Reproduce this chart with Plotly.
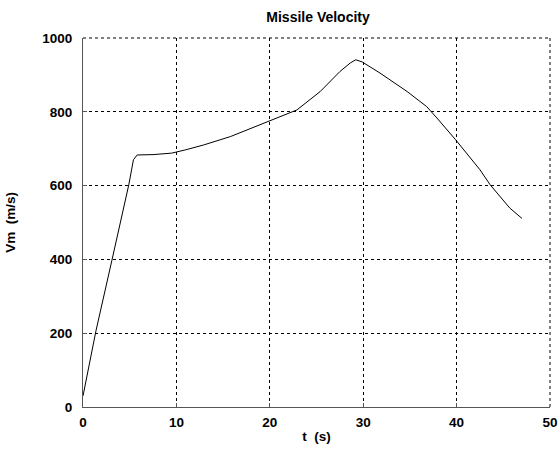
import plotly.graph_objects as go

t = [0, 1.4, 3.1, 4.9, 5.4, 5.8, 7.5, 9.5, 11.0, 12.9, 15.8, 18.0, 21.1, 22.9, 25.4, 27.5, 28.6, 29.2, 29.9, 31.8, 34.7, 36.8, 37.9, 39.9, 42.5, 43.6, 45.7, 47.0]
vm = [30, 208, 398, 602, 670, 683, 684, 688, 697, 710, 733, 755, 787, 805, 855, 909, 932, 941, 935, 905, 855, 814, 783, 724, 643, 602, 539, 511]

x_ticks = [0, 10, 20, 30, 40, 50]
y_ticks = [0, 200, 400, 600, 800, 1000]

fam = "Liberation Sans, Arial, sans-serif"
font = dict(family=fam, size=13.5, color="black")

fig = go.Figure()
fig.add_trace(go.Scatter(x=t, y=vm, mode="lines", line=dict(color="black", width=1), showlegend=False))

# dotted frame on top/right edges (grid at range limits)
fig.add_shape(type="line", xref="paper", yref="paper", x0=0, x1=1, y0=1, y1=1,
              line=dict(color="black", width=1, dash="dot"))
fig.add_shape(type="line", xref="paper", yref="paper", x0=1, x1=1, y0=0, y1=1,
              line=dict(color="black", width=1, dash="dot"))

fig.update_layout(
    width=558, height=454,
    margin=dict(l=83, r=8, t=38, b=47, autoexpand=False),
    plot_bgcolor="white", paper_bgcolor="white",
    title=dict(text="<b>Missile Velocity</b>", x=0.57, xanchor="center", y=0.962, yanchor="middle",
               font=dict(family=fam, size=14, color="black")),
    font=font,
)
fig.update_xaxes(
    range=[0, 50], tickvals=x_ticks, ticktext=[f"<b>{v}</b>" for v in x_ticks],
    showgrid=True, gridcolor="black", griddash="dot", gridwidth=1,
    showline=True, linecolor="#555", linewidth=1, ticks="inside", ticklen=4, tickcolor="#555",
    zeroline=False, automargin=False, ticklabelstandoff=3,
    title=dict(text="<b>t&nbsp;&nbsp;(s)</b>", standoff=2, font=font),
)
fig.update_yaxes(
    range=[0, 1000], tickvals=y_ticks, ticktext=[f"<b>{v}</b>" for v in y_ticks],
    showgrid=True, gridcolor="black", griddash="dot", gridwidth=1,
    showline=True, linecolor="#555", linewidth=1, ticks="inside", ticklen=4, tickcolor="#555",
    zeroline=False, automargin=False, ticklabelstandoff=7,
    title=dict(text="<b>Vm&nbsp;&nbsp;(m/s)</b>", standoff=23, font=font),
)

fig.write_html("out.html")
